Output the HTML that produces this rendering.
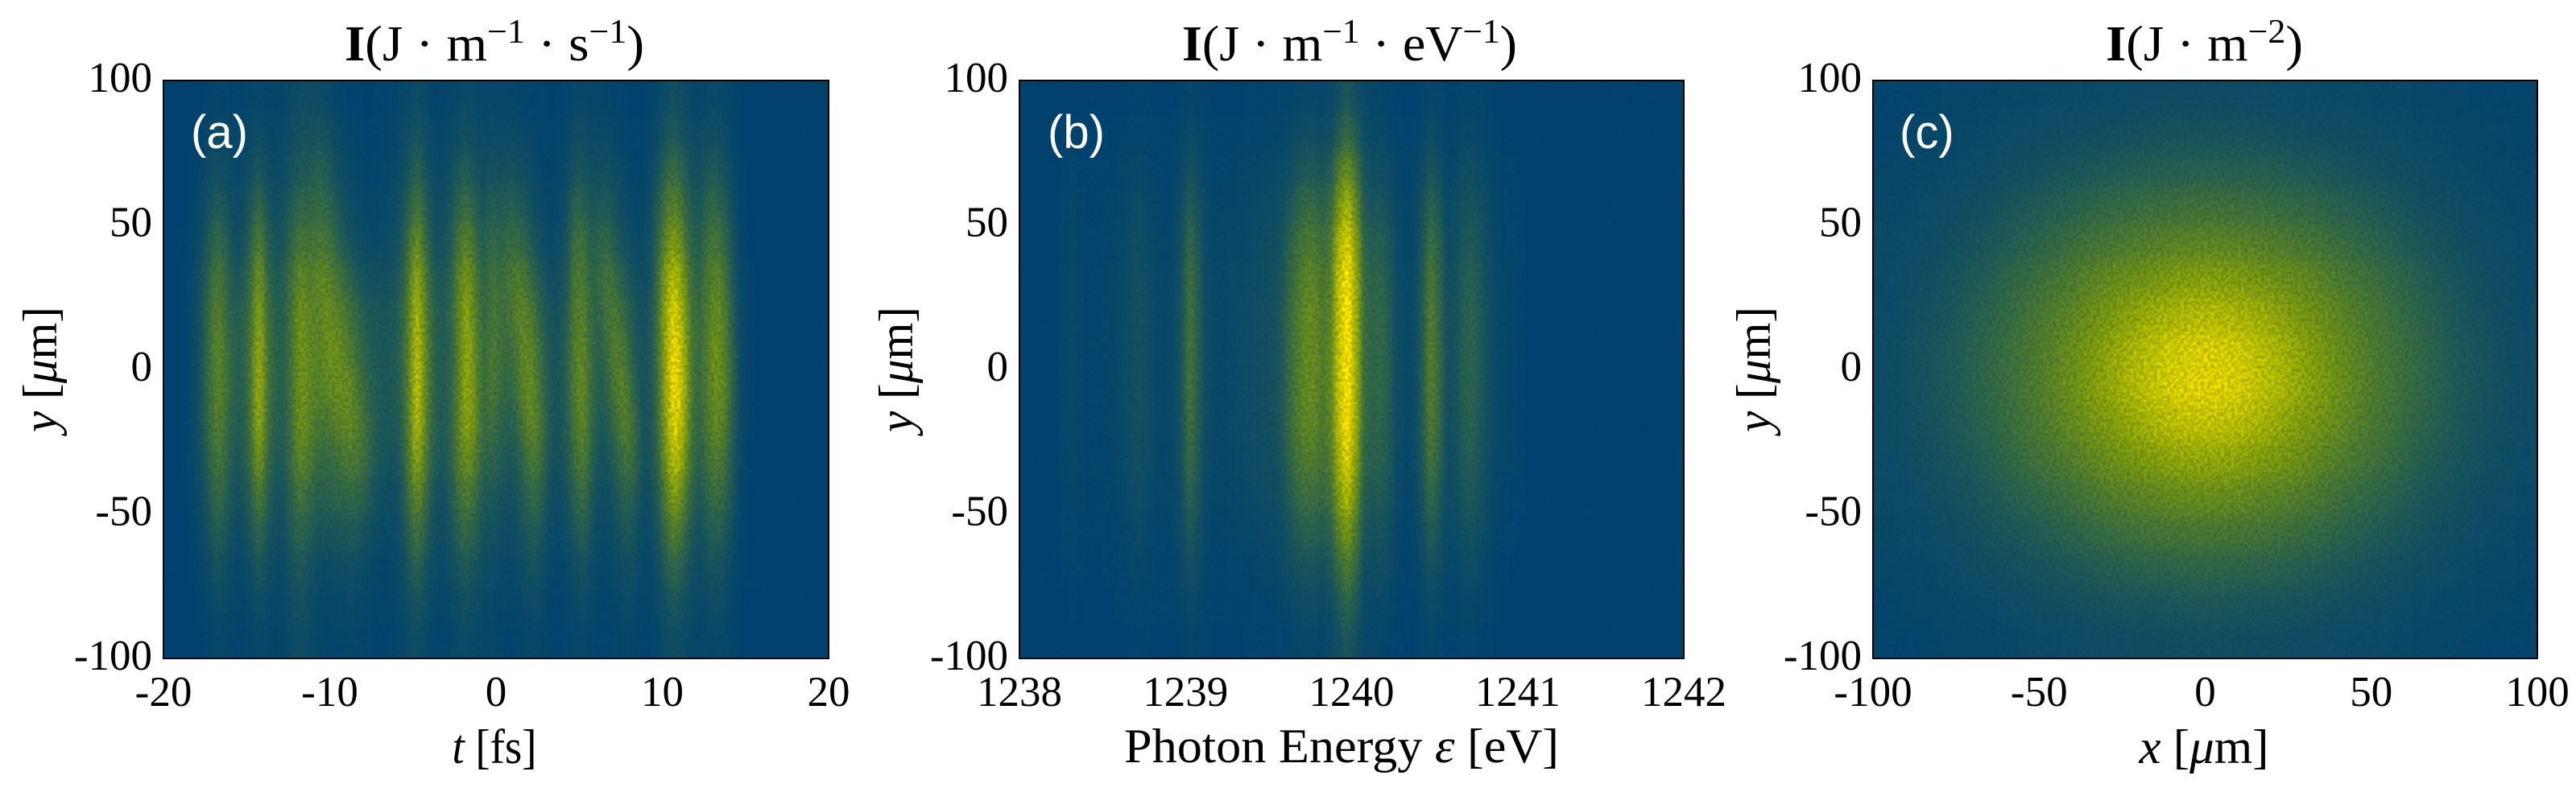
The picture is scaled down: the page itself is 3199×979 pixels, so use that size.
<!DOCTYPE html>
<html lang="en">
<head>
<meta charset="utf-8">
<title>Intensity maps</title>
<style>
html,body{margin:0;padding:0;background:#fff;}
svg{display:block;}
text{font-family:"Liberation Serif","DejaVu Serif",serif;fill:#000;}
.tick{font-size:53px;}
.lbl{font-size:60px;}
.ttl{font-size:62px;}
.sup{font-size:42px;}
.panel-tag{font-family:"Liberation Sans","DejaVu Sans",sans-serif;font-size:58px;fill:#fff;}
</style>
</head>
<body>
<svg id="figure" xmlns="http://www.w3.org/2000/svg" width="3199" height="979" viewBox="0 0 3199 979">
<defs>
<clipPath id="clip-a"><rect x="203" y="100" width="826" height="718"/></clipPath>
<clipPath id="clip-b"><rect x="1266" y="100" width="825" height="718"/></clipPath>
<clipPath id="clip-c"><rect x="2326" y="100" width="825" height="718"/></clipPath>
<filter id="soft-a" filterUnits="userSpaceOnUse" x="100" y="0" width="1100" height="979" color-interpolation-filters="sRGB">
<feGaussianBlur in="SourceGraphic" stdDeviation="4.5 13" result="b"/>
<feColorMatrix in="b" type="matrix" values="1 0 0 0 0  1 0 0 0 0  0 0 0 0 0  0 0 0 0 1" result="m"/>
<feTurbulence type="fractalNoise" baseFrequency="0.24" numOctaves="1" seed="4" result="t"/>
<feColorMatrix in="t" type="matrix" values="2.2 0 0 0 -0.6  2.2 0 0 0 -0.6  0 0 0 0 0  0 0 0 0 1" result="n"/>
<feComposite in="m" in2="n" operator="arithmetic" k1="0.3" k2="0" k3="0" k4="0" result="g"/>
<feComposite in="b" in2="g" operator="arithmetic" k1="0" k2="1" k3="1" k4="0"/>
</filter>
<filter id="soft-b" filterUnits="userSpaceOnUse" x="1180" y="0" width="1000" height="979" color-interpolation-filters="sRGB">
<feGaussianBlur in="SourceGraphic" stdDeviation="3.5 13" result="b"/>
<feColorMatrix in="b" type="matrix" values="1 0 0 0 0  1 0 0 0 0  0 0 0 0 0  0 0 0 0 1" result="m"/>
<feTurbulence type="fractalNoise" baseFrequency="0.24" numOctaves="1" seed="7" result="t"/>
<feColorMatrix in="t" type="matrix" values="2.2 0 0 0 -0.6  2.2 0 0 0 -0.6  0 0 0 0 0  0 0 0 0 1" result="n"/>
<feComposite in="m" in2="n" operator="arithmetic" k1="0.3" k2="0" k3="0" k4="0" result="g"/>
<feComposite in="b" in2="g" operator="arithmetic" k1="0" k2="1" k3="1" k4="0"/>
</filter>
<filter id="soft-c" filterUnits="userSpaceOnUse" x="2200" y="0" width="999" height="979" color-interpolation-filters="sRGB">
<feGaussianBlur in="SourceGraphic" stdDeviation="10 14" result="b"/>
<feColorMatrix in="b" type="matrix" values="1 0 0 0 0  1 0 0 0 0  0 0 0 0 0  0 0 0 0 1" result="m"/>
<feTurbulence type="fractalNoise" baseFrequency="0.24" numOctaves="1" seed="9" result="t"/>
<feColorMatrix in="t" type="matrix" values="2.2 0 0 0 -0.6  2.2 0 0 0 -0.6  0 0 0 0 0  0 0 0 0 1" result="n"/>
<feComposite in="m" in2="n" operator="arithmetic" k1="0.3" k2="0" k3="0" k4="0" result="g"/>
<feComposite in="b" in2="g" operator="arithmetic" k1="0" k2="1" k3="1" k4="0"/>
</filter>
</defs>

<g>
<g clip-path="url(#clip-a)"><g id="heat-a" filter="url(#soft-a)"><rect x="143" y="40" width="946" height="838" fill="#02416d"/></g></g>
<rect x="203" y="100" width="826" height="718" fill="none" stroke="#000" stroke-width="2"/>
<text class="panel-tag" x="237" y="184">(a)</text>
<text class="ttl" x="428" y="75" textLength="372" lengthAdjust="spacingAndGlyphs"><tspan font-weight="bold">I</tspan>(J · m<tspan class="sup" dy="-22">−1</tspan><tspan dy="22"> · s</tspan><tspan class="sup" dy="-22">−1</tspan><tspan dy="22">)</tspan></text>
<text class="lbl" x="614" y="948" text-anchor="middle" textLength="105" lengthAdjust="spacingAndGlyphs"><tspan font-style="italic">t</tspan> [fs]</text>
<text class="lbl" transform="translate(70,459) rotate(-90)" text-anchor="middle" textLength="156" lengthAdjust="spacingAndGlyphs"><tspan font-style="italic">y</tspan> [<tspan font-style="italic">μ</tspan>m]</text>
<g id="ticks-a"></g>
</g>

<g>
<g clip-path="url(#clip-b)"><g id="heat-b" filter="url(#soft-b)"><rect x="1206" y="40" width="945" height="838" fill="#02416d"/></g></g>
<rect x="1266" y="100" width="825" height="718" fill="none" stroke="#000" stroke-width="2"/>
<text class="panel-tag" x="1301" y="184">(b)</text>
<text class="ttl" x="1468" y="75" textLength="416" lengthAdjust="spacingAndGlyphs"><tspan font-weight="bold">I</tspan>(J · m<tspan class="sup" dy="-22">−1</tspan><tspan dy="22"> · eV</tspan><tspan class="sup" dy="-22">−1</tspan><tspan dy="22">)</tspan></text>
<text class="lbl" x="1666" y="947" text-anchor="middle" textLength="540" lengthAdjust="spacingAndGlyphs">Photon Energy <tspan font-style="italic">ε</tspan> [eV]</text>
<text class="lbl" transform="translate(1133,459) rotate(-90)" text-anchor="middle" textLength="156" lengthAdjust="spacingAndGlyphs"><tspan font-style="italic">y</tspan> [<tspan font-style="italic">μ</tspan>m]</text>
<g id="ticks-b"></g>
</g>

<g>
<g clip-path="url(#clip-c)"><g id="heat-c" filter="url(#soft-c)"><rect x="2266" y="40" width="933" height="838" fill="#02416d"/></g></g>
<rect x="2326" y="100" width="825" height="718" fill="none" stroke="#000" stroke-width="2"/>
<text class="panel-tag" x="2359" y="184">(c)</text>
<text class="ttl" x="2615" y="75" textLength="245" lengthAdjust="spacingAndGlyphs"><tspan font-weight="bold">I</tspan>(J · m<tspan class="sup" dy="-22">−2</tspan><tspan dy="22">)</tspan></text>
<text class="lbl" x="2737" y="948" text-anchor="middle" textLength="161" lengthAdjust="spacingAndGlyphs"><tspan font-style="italic">x</tspan> [<tspan font-style="italic">μ</tspan>m]</text>
<text class="lbl" transform="translate(2198,459) rotate(-90)" text-anchor="middle" textLength="156" lengthAdjust="spacingAndGlyphs"><tspan font-style="italic">y</tspan> [<tspan font-style="italic">μ</tspan>m]</text>
<g id="ticks-c"></g>
</g>
</svg>

<script>
const yTicks = [100, 50, 0, -50, -100];
const panelAXTicks = [-20, -10, 0, 10, 20];
const panelBXTicks = [1238, 1239, 1240, 1241, 1242];
const panelCXTicks = [-100, -50, 0, 50, 100];

const panelAColumnStart = -20;
const panelAColumnStep = 0.5;
const panelBColumnStart = 1238.25;
const panelBColumnStep = 0.05;
const panelCColumnStart = -100;
const panelCColumnStep = 6.25;
const rowStep = 12.5;

const panelAIntensity = [
[0,0,0,0,0,2,3,2,1,1,3,4,3,2,4,7,9,9,8,6,4,2,1,1,0,1,1,2,3,6,9,6,2,2,3,5,7,5,3,4,3,3,3,2,1,1,0,1,2,4,4,3,3,2,2,1,0,0,2,4,9,12,8,4,3,5,6,4,2,0,0,0],
[0,0,0,0,1,4,6,5,3,3,6,9,5,4,6,10,14,14,15,14,9,5,3,2,1,1,2,3,5,10,16,10,4,4,6,10,13,9,6,8,7,7,7,5,3,2,1,2,4,9,9,6,6,6,4,2,1,1,3,8,16,20,14,8,7,10,11,8,3,0,0,0],
[0,0,0,1,3,8,12,9,5,5,11,18,10,6,9,15,20,20,24,22,15,9,5,3,2,2,3,4,8,16,26,16,7,6,10,18,22,15,10,14,12,14,13,10,6,3,2,3,7,16,16,10,12,12,8,4,2,2,5,14,28,34,24,14,12,18,20,14,6,1,0,0],
[0,0,0,2,6,14,22,16,8,8,18,32,16,10,14,22,30,28,32,30,22,14,9,6,4,4,5,7,12,24,40,24,11,10,15,28,34,24,15,24,20,24,22,18,11,6,4,5,11,26,26,16,20,20,13,8,4,4,8,22,40,48,34,20,18,28,30,22,10,2,0,0],
[0,0,0,3,9,20,32,24,11,12,26,46,24,14,18,30,40,36,40,40,30,22,15,10,7,6,7,10,16,32,56,32,15,13,20,38,48,34,20,32,26,32,32,28,18,10,6,7,15,36,36,22,28,30,20,14,7,6,10,28,52,64,46,26,22,36,40,30,14,3,0,0],
[0,0,1,4,12,28,42,30,18,19,32,58,30,20,23,38,50,44,48,50,42,34,26,18,14,13,13,14,20,40,70,42,22,18,24,46,60,42,26,38,32,38,44,40,28,18,12,11,18,42,42,26,32,38,30,22,13,10,12,34,66,80,60,32,26,42,48,38,18,4,1,0],
[0,0,1,5,14,32,46,34,22,24,36,66,36,24,24,40,58,48,46,54,50,44,36,28,20,18,17,18,24,44,78,46,26,20,26,48,68,46,28,40,36,36,46,48,38,24,15,14,22,44,46,28,28,40,40,30,19,13,16,36,72,92,68,38,30,44,54,44,22,5,1,0],
[0,0,1,5,14,32,50,38,24,24,38,72,38,26,24,40,58,50,46,52,56,50,42,32,24,20,18,19,24,45,82,50,27,20,25,46,70,50,30,42,36,32,40,52,46,30,17,15,24,45,50,30,24,36,46,38,22,15,16,36,72,98,74,40,30,45,58,46,24,6,1,0],
[0,0,1,5,14,32,48,38,24,24,38,74,38,26,24,40,58,50,46,48,52,54,50,38,28,22,19,19,24,45,84,50,27,20,26,46,70,52,30,42,33,28,36,50,50,32,18,15,24,44,52,30,22,28,44,46,28,15,16,34,70,100,76,40,30,44,56,48,25,6,1,0],
[0,0,1,5,14,30,46,35,22,23,36,70,36,24,23,38,56,48,40,40,44,48,50,44,32,22,18,18,23,44,80,48,26,19,26,46,66,52,30,36,28,22,28,44,50,36,18,14,22,40,50,28,18,22,36,46,36,16,15,33,66,94,72,38,28,42,52,44,22,5,1,0],
[0,0,1,4,12,26,40,30,18,19,32,60,30,20,20,34,50,42,32,30,33,38,42,40,30,20,15,14,18,40,68,42,22,17,24,42,56,44,26,28,22,18,20,32,42,32,15,12,19,34,44,24,14,14,26,36,33,14,13,28,58,82,62,34,24,36,44,36,18,4,0,0],
[0,0,0,3,9,20,32,24,13,14,24,44,24,14,15,28,38,30,24,24,26,28,30,28,22,13,10,9,14,32,52,34,15,12,19,34,42,34,18,20,15,12,15,24,32,24,10,8,13,26,34,18,10,10,18,26,24,10,9,22,46,64,48,26,18,28,34,28,14,3,0,0],
[0,0,0,2,6,14,24,18,8,8,17,30,17,10,12,22,28,22,17,16,17,18,19,18,13,8,6,6,10,24,38,24,11,9,14,25,30,24,13,14,10,8,10,17,23,17,6,5,9,18,24,13,6,6,12,18,17,6,7,16,34,46,34,18,12,20,24,20,9,2,0,0],
[0,0,0,1,3,8,15,11,5,5,10,18,10,6,7,14,20,14,8,7,8,9,10,9,6,4,3,4,7,16,26,16,7,6,9,16,20,15,8,9,6,5,6,10,14,10,4,3,5,10,14,8,4,4,7,10,10,4,4,10,22,30,22,12,8,13,15,12,5,1,0,0],
[0,0,0,0,1,4,8,6,3,3,5,9,6,4,5,10,14,10,5,4,4,5,6,5,3,2,2,3,5,10,15,10,4,3,5,10,12,9,5,5,3,3,3,6,8,6,2,2,3,5,8,4,2,2,4,6,6,2,3,6,13,18,13,7,5,7,9,7,3,0,0,0],
[0,0,0,0,0,2,4,3,1,1,3,5,3,2,3,7,9,7,3,2,2,3,3,3,2,1,1,2,3,7,9,6,2,2,3,6,7,5,3,3,2,1,2,3,4,3,1,1,2,3,4,2,1,1,2,3,3,1,1,4,8,10,7,4,3,4,5,4,2,0,0,0]
];

const panelBIntensity = [
[0,0,0,0,0,0,0,0,1,1,1,0,0,0,1,3,2,1,0,0,0,0,1,1,1,1,2,2,3,4,4,3,5,12,18,12,6,3,3,2,1,0,0,2,4,3,1,1,2,2,2,1,0,0,0,0],
[1,1,0,0,0,0,1,1,2,2,2,1,1,1,3,7,5,2,1,1,1,1,2,2,2,3,3,6,8,10,10,8,11,22,32,22,10,6,6,4,2,1,1,4,9,6,2,3,5,5,4,2,1,0,0,0],
[1,2,1,1,1,1,1,3,4,5,3,2,1,2,6,14,9,3,2,2,2,3,3,4,5,5,7,11,16,20,20,16,22,42,54,38,16,10,11,8,3,2,3,8,17,12,4,5,9,10,8,4,2,1,1,0],
[2,3,2,1,1,2,2,4,6,8,5,3,2,3,9,22,14,5,3,3,3,4,5,6,7,8,11,18,26,31,31,26,32,60,74,52,22,16,17,13,5,3,4,13,26,19,7,8,14,15,12,6,3,2,1,1],
[3,4,2,2,2,2,3,5,8,10,7,4,3,5,12,30,18,6,4,4,5,5,6,8,9,10,14,25,34,41,41,34,42,74,90,64,28,22,24,17,7,4,5,17,35,25,9,11,19,20,16,8,4,2,2,1],
[4,5,3,2,2,3,4,6,10,12,8,5,4,5,15,35,22,7,5,5,6,6,7,9,11,12,16,29,39,48,48,39,46,82,98,70,32,26,28,20,8,5,6,20,41,29,11,13,22,24,18,9,5,3,2,1],
[4,5,3,2,2,3,4,7,11,13,9,5,4,6,16,37,24,8,5,5,6,7,8,10,12,13,18,31,43,51,51,43,48,82,100,72,34,28,30,22,9,5,7,22,44,31,12,14,24,26,20,10,5,3,2,1],
[4,5,3,2,2,3,4,7,11,13,9,5,4,6,16,38,24,8,5,5,6,7,8,10,12,13,18,31,43,51,51,43,50,82,100,72,34,28,30,22,9,5,7,22,45,32,12,14,24,26,20,10,5,3,2,1],
[4,5,3,2,2,3,4,7,11,13,9,5,4,6,16,38,24,8,5,5,6,7,8,10,12,13,18,31,43,51,51,43,50,82,100,72,34,28,30,22,9,5,7,22,45,32,12,14,24,26,20,10,5,3,2,1],
[4,4,3,2,2,3,4,7,10,12,9,5,4,6,15,36,23,8,5,5,6,7,8,10,12,13,18,31,43,49,49,41,48,80,98,70,32,26,28,21,9,5,7,21,43,31,12,13,23,25,19,10,5,3,2,1],
[3,4,3,2,2,2,3,6,9,11,8,4,3,5,14,32,20,7,4,4,5,6,7,9,10,11,16,27,38,43,43,36,44,72,90,64,28,24,26,19,8,4,6,19,38,27,10,12,21,22,17,9,4,3,2,1],
[2,3,2,1,1,2,2,5,7,9,6,3,3,4,11,26,16,5,3,3,4,5,6,7,8,9,12,21,30,34,34,30,36,62,76,54,23,19,21,15,6,3,4,15,30,21,8,10,17,18,14,7,3,2,1,1],
[2,2,1,1,1,1,2,3,5,6,4,2,2,3,8,19,12,4,2,2,3,3,4,5,6,6,9,16,21,25,25,21,26,48,58,42,17,14,15,11,4,2,3,11,22,16,6,7,12,13,10,5,2,1,1,0],
[1,1,1,0,0,1,1,2,3,4,3,1,1,2,5,12,8,3,1,1,2,2,2,3,4,4,6,10,13,16,16,13,18,32,42,30,11,9,10,7,3,1,2,7,14,10,4,4,8,8,6,3,1,1,0,0],
[0,1,0,0,0,0,1,1,2,2,1,1,1,1,3,6,4,1,1,1,1,1,1,2,2,2,3,5,7,9,9,7,10,20,28,20,7,5,5,4,1,1,1,4,7,5,2,2,4,4,3,2,1,0,0,0],
[0,0,0,0,0,0,0,0,1,1,1,0,0,0,1,3,2,1,0,0,0,0,1,1,1,1,2,2,3,4,4,3,6,12,18,12,5,3,3,2,1,0,0,2,3,2,1,1,2,2,1,1,0,0,0,0]
];

const panelCIntensity = [
[2,2,2,3,3,4,5,5,6,6,6,7,7,8,8,8,8,8,8,7,7,6,6,6,5,5,4,3,3,2,2,2],
[2,3,4,4,5,6,7,8,9,10,11,12,13,14,15,15,15,15,14,13,12,11,10,9,8,7,6,5,4,4,3,2],
[3,4,5,6,7,8,10,12,14,16,18,20,22,23,23,24,24,23,23,22,20,18,16,14,12,10,8,7,6,5,4,3],
[5,5,7,8,10,12,16,19,22,24,28,30,32,34,35,36,36,35,34,32,30,28,24,22,19,16,12,10,8,7,5,5],
[6,7,8,10,14,17,21,25,29,33,37,40,43,45,47,48,48,47,45,43,40,37,33,29,25,21,17,14,10,8,7,6],
[6,8,10,14,18,22,28,32,37,42,47,52,55,58,62,63,63,62,58,55,52,47,42,37,32,28,22,18,14,10,8,6],
[7,9,13,16,21,26,31,37,43,48,55,60,66,71,74,77,77,74,71,66,60,55,48,43,37,31,26,21,16,13,9,7],
[8,10,15,18,23,29,34,40,46,53,60,67,74,80,86,88,88,86,80,74,67,60,53,46,40,34,29,23,18,15,10,8],
[8,10,15,18,23,29,34,41,47,54,62,68,76,82,88,90,90,88,82,76,68,62,54,47,41,34,29,23,18,15,10,8],
[8,10,13,17,22,27,32,39,44,51,57,62,68,74,79,81,81,79,74,68,62,57,51,44,39,32,27,22,17,13,10,8],
[7,9,12,15,18,23,29,34,39,44,49,55,59,62,66,67,67,66,62,59,55,49,44,39,34,29,23,18,15,12,9,7],
[6,7,9,12,15,18,23,27,31,35,40,44,47,49,52,53,53,52,49,47,44,40,35,31,27,23,18,15,12,9,7,6],
[5,6,7,9,11,14,17,20,23,27,30,33,36,38,39,40,40,39,38,36,33,30,27,23,20,17,14,11,9,7,6,5],
[4,5,5,6,8,10,12,14,16,18,21,23,25,26,27,28,28,27,26,25,23,21,18,16,14,12,10,8,6,5,5,4],
[2,3,4,5,5,6,7,9,10,12,13,15,16,16,17,18,18,17,16,16,15,13,12,10,9,7,6,5,5,4,3,2],
[2,2,2,3,4,4,5,6,6,7,8,8,9,9,10,10,10,10,9,9,8,8,7,6,6,5,4,4,3,2,2,2]
];

const colorStops = [0, 20, 40, 60, 80, 100];
const colorRed = [2, 26, 61, 104, 161, 222];
const colorGreen = [65, 84, 107, 134, 166, 189];
const colorBlue = [109, 85, 50, 15, 0, 0];

const SVG_NS = 'http://www.w3.org/2000/svg';
const plotTop = 100;
const plotBottom = 818;
const yDomainMax = 100;
const yDomainMin = -100;

function yScale(v) {
  return plotTop + (yDomainMax - v) / (yDomainMax - yDomainMin) * (plotBottom - plotTop);
}
function linearScale(d0, d1, r0, r1) {
  return function (v) { return r0 + (v - d0) / (d1 - d0) * (r1 - r0); };
}
function interpolateChannel(v, channel) {
  for (let i = 1; i < colorStops.length; i++) {
    if (v <= colorStops[i]) {
      const f = (v - colorStops[i - 1]) / (colorStops[i] - colorStops[i - 1]);
      return Math.round(channel[i - 1] + f * (channel[i] - channel[i - 1]));
    }
  }
  return channel[channel.length - 1];
}
function colorFor(v) {
  return 'rgb(' + interpolateChannel(v, colorRed) + ',' + interpolateChannel(v, colorGreen) + ',' + interpolateChannel(v, colorBlue) + ')';
}
function drawHeatmap(groupId, values, columnStart, columnStep, xScale, cellName, bleedSides) {
  const group = document.getElementById(groupId);
  values.forEach(function (rowValues, r) {
    const yHigh = yDomainMax - r * rowStep;
    const yLow = yHigh - rowStep;
    let top = yScale(yHigh);
    let bottom = yScale(yLow);
    if (r === 0) { top -= 60; }
    if (r === values.length - 1) { bottom += 60; }
    rowValues.forEach(function (value, c) {
      let left = xScale(columnStart + c * columnStep);
      let right = xScale(columnStart + (c + 1) * columnStep);
      if (bleedSides && c === 0) { left -= 40; }
      if (bleedSides && c === rowValues.length - 1) { right += 40; }
      const cell = document.createElementNS(SVG_NS, 'rect');
      cell.setAttribute('x', left);
      cell.setAttribute('y', top);
      cell.setAttribute('width', right - left + 0.5);
      cell.setAttribute('height', bottom - top + 0.5);
      cell.setAttribute('fill', colorFor(value));
      
      
      group.appendChild(cell);
    });
  });
}
function drawTicks(groupId, xTicks, xScale, plotLeft, prefix) {
  const group = document.getElementById(groupId);
  xTicks.forEach(function (tick) {
    const label = document.createElementNS(SVG_NS, 'text');
    label.setAttribute('class', 'tick');
    label.setAttribute('x', xScale(tick));
    label.setAttribute('y', 877);
    label.setAttribute('text-anchor', 'middle');
    
    
    label.textContent = String(tick);
    group.appendChild(label);
  });
  yTicks.forEach(function (tick) {
    const label = document.createElementNS(SVG_NS, 'text');
    label.setAttribute('class', 'tick');
    label.setAttribute('x', plotLeft - 14);
    label.setAttribute('y', yScale(tick) + 14);
    label.setAttribute('text-anchor', 'end');
    
    
    label.textContent = String(tick);
    group.appendChild(label);
  });
}

const xScaleA = linearScale(-20, 20, 203, 1029);
const xScaleB = linearScale(1238, 1242, 1266, 2091);
const xScaleC = linearScale(-100, 100, 2326, 3151);

drawHeatmap('heat-a', panelAIntensity, panelAColumnStart, panelAColumnStep, xScaleA, 'panel-a-heatmap-cell', false);
drawHeatmap('heat-b', panelBIntensity, panelBColumnStart, panelBColumnStep, xScaleB, 'panel-b-heatmap-cell', false);
drawHeatmap('heat-c', panelCIntensity, panelCColumnStart, panelCColumnStep, xScaleC, 'panel-c-heatmap-cell', true);
drawTicks('ticks-a', panelAXTicks, xScaleA, 203, 'panel-a');
drawTicks('ticks-b', panelBXTicks, xScaleB, 1266, 'panel-b');
drawTicks('ticks-c', panelCXTicks, xScaleC, 2326, 'panel-c');
</script>
</body>
</html>
